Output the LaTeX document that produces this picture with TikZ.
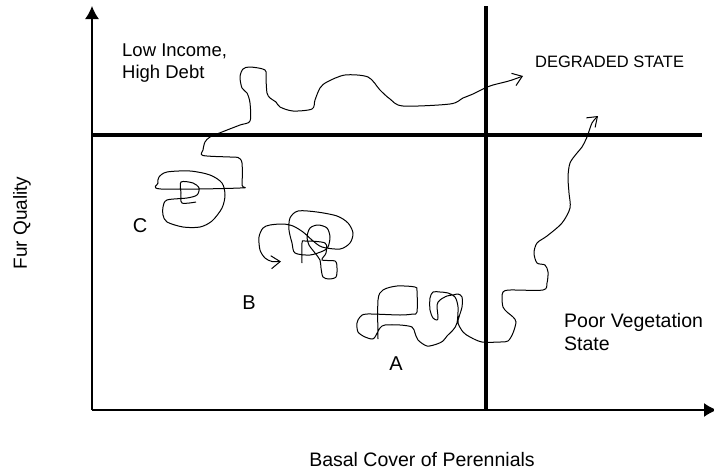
\documentclass[tikz,border=0pt]{standalone}
\usepackage{fontspec}
\setmainfont{Liberation Sans}
\usepackage{tikz}
\usetikzlibrary{arrows.meta}

\tikzset{
	lbl/.style={font=\fontsize{18.5}{22}\selectfont, inner sep=0pt},
	big/.style={font=\fontsize{20}{24}\selectfont, inner sep=0pt},
	heavy/.style={line width=4pt},
	trail/.style={line width=1pt, -{Straight Barb[length=9pt,width=13pt]}}
}

\begin{document}
\begin{tikzpicture}[x=1pt, y=-1pt]
	\useasboundingbox (0,0) rectangle (714,472);

	% axes
	\draw[line width=1.4pt, -{Latex[length=13pt,width=14pt]}] (92,410) -- (92,6);
	\draw[line width=1.4pt, -{Latex[length=13pt,width=14pt]}] (92,410) -- (717,410);

	% state boundaries
	\draw[heavy] (92,135) -- (702,135);
	\draw[heavy] (486,6) -- (486,410);

	% labels
	\node[lbl, anchor=base west] (low)  at (122,56)   {Low Income,};
	\node[lbl, anchor=base west] (debt) at (122,78.5) {High Debt};
	\node[lbl, font=\fontsize{16.5}{20}\selectfont, anchor=base west] (deg) at (535,67.5) {DEGRADED STATE};
	\node[lbl, font=\fontsize{19.5}{23}\selectfont, anchor=base west] (poor)  at (564,327) {Poor Vegetation};
	\node[lbl, font=\fontsize{19.5}{23}\selectfont, anchor=base west] (state) at (564,350.5) {State};
	\node[lbl, font=\fontsize{19.5}{23}\selectfont] (xlab) at (422,460) {Basal Cover of Perennials};
	\node[lbl, font=\fontsize{19}{23}\selectfont, rotate=90] (ylab) at (22,223) {Fur Quality};
	\node[big] (c) at (140,226) {C};
	\node[big] (b) at (249,303) {B};
	\node[big] (a) at (396,364) {A};

	% trajectory from C
	\draw[trail] plot[smooth, tension=0.5] coordinates {
		(196,202) (182,203) (181,193) (181,182) (193,183) (199,188) (197,195) (187,198)
		(167,200) (163,207) (163,215) (167,222) (183,227) (200,227) (212,221) (222,208)
		(225,195) (222,183) (210,175) (190,171) (167,172) (159,177) (158,183) (161,189)
		(240,188) (242,185) (242,163) (238,157.5) (230,157) (203,155.5) (203,150) (205,142)
		(210,137) (222,132) (240,125) (250,121) (250,103) (247,93) (242,88) (240,77)
		(243,69) (250,67) (265,70) (266,80) (267,93) (270,98) (276,102) (280,107)
		(293,111) (312,109) (315,100) (320,88) (327,82) (345,75) (368,77) (380,90)
		(390,99) (403,106) (450,104) (463,98) (473,94) (485,88) (493,85) (505,82)
		(512,80) (523,76)};

	% loop at B
	\draw[trail] plot[smooth, tension=0.5] coordinates {
		(302,263) (302,243) (305,241) (325,243) (326,253) (322,260) (335,261) (337,268)
		(336,277) (329,279) (323,277) (321,268) (320,260) (315,253) (309,245) (307,237)
		(310,228) (318,225) (327,228) (330,237) (328,247) (323,251) (310,255) (295,253)
		(292,243) (289,230) (290,218) (298,211) (317,212) (337,216) (348,223) (353,233)
		(350,243) (340,249) (322,247) (312,240) (303,232) (293,226) (283,224) (270,225)
		(263,228) (259,237) (260,250) (265,258) (272,261.5) (281,261.5)};

	% trajectory from A
	\draw[trail] plot[smooth, tension=0.5] coordinates {
		(378,339) (378,300) (383,290) (397,286) (415,287) (417,291) (417,312) (413,314)
		(400,315) (367,314) (360,317) (357,323) (358,332) (365,337) (372,339) (375,337)
		(380,328) (385,325) (400,325) (412,327) (415,333) (418,340) (427,346) (437,344)
		(443,341) (447,336) (453,330) (457,323) (458,307) (455,297) (448,293) (440,292)
		(433,292) (430,298) (430,310) (433,318) (437,320) (438,317) (437,305) (440,300)
		(447,296) (453,295) (458,294) (462,297) (462,307) (459,317) (458,323) (463,332)
		(470,337) (482,342) (500,342) (508,341) (513,333) (516,322) (513,317) (507,312)
		(503,307) (502,298) (503,292) (510,290) (543,290) (547,283) (548,272) (545,265)
		(537,263) (534,253) (537,243) (547,236) (562,223) (570,208) (569,193) (568,177)
		(570,163) (577,153) (582,147) (587,137) (592,123) (598,116)};

\end{tikzpicture}
\end{document}
